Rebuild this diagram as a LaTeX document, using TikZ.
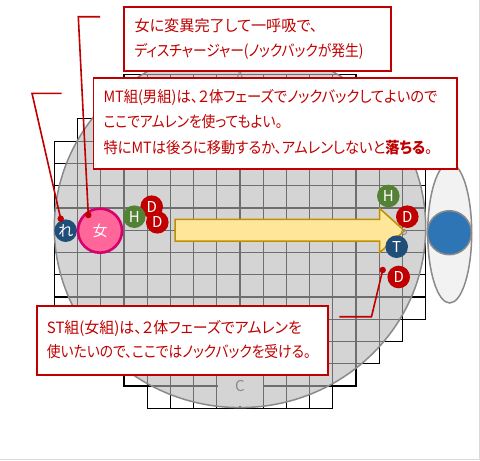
\documentclass[tikz,border=0pt]{standalone}
\usepackage{fontspec}
\usepackage{graphicx}
\setmainfont{Noto Sans CJK JP}[RawFeature=+palt]
\definecolor{calred}{HTML}{C00000}
\definecolor{mkred}{HTML}{C00000}
\definecolor{mkgreen}{HTML}{548235}
\definecolor{mkblue}{HTML}{1F4E79}
\definecolor{pinkfill}{HTML}{FF6699}
\definecolor{pinkedge}{HTML}{D6006E}
\definecolor{arrfill}{HTML}{FFE699}
\definecolor{arredge}{HTML}{BF9000}
\definecolor{bossblue}{HTML}{2E75B6}
\definecolor{arenainside}{HTML}{D4D4D4}
\definecolor{innerline}{HTML}{6E6E6E}
\definecolor{edgegray}{HTML}{8A8A8A}
\newcommand\fitline[2]{\resizebox{#1pt}{\height}{#2}}
\newcommand\gridcells[1]{%
\begin{scope}[shift={(54.3,74.3)}, x=23.2pt, y=-22.27pt]
\foreach \r/\a/\b in {0/3/12,1/2/13,2/1/14,3/0/15,4/0/15,5/0/15,6/0/15,7/0/15,8/0/15,9/0/15,10/0/15,11/1/14,12/2/13,13/3/12,14/4/11}{
  \foreach \c in {\a,...,\b}{
    \draw[gridcell, draw=#1] (\c,\r) rectangle ++(1,1);
  }
}
\end{scope}}
\tikzset{
  gridcell/.style={line width=1.2pt},
  mk/.style={circle, inner sep=0pt, minimum size=22.6pt, text=white, font=\fontsize{15}{15}\selectfont},
  leaddot/.style={circle, fill=calred, inner sep=0pt, minimum size=6.5pt},
  leader/.style={draw=calred, line width=1.6pt},
  callout/.style={rectangle, draw=calred, line width=1.8pt, fill=white, inner sep=0pt, anchor=north west},
  txt/.style={anchor=base west, inner sep=0pt, text=calred, font=\fontsize{15.5}{15.5}\selectfont},
  wpos/.style={text=edgegray, font=\fontsize{15}{15}\selectfont, inner sep=0pt}
}
\begin{document}
\begin{tikzpicture}[x=1pt,y=-1pt]
\useasboundingbox (0,0) rectangle (480,461);
\fill[white] (0,0) rectangle (480,461);
% grid outside the arena
\gridcells{black}
% arena
\fill[arenainside] (240,227.6) ellipse [x radius=185.7, y radius=180];
\begin{scope}
\clip (240,227.6) ellipse [x radius=185.7, y radius=180];
\gridcells{innerline}
\end{scope}
\fill[arenainside] (217.5,75) rectangle (262.5,118);
\fill[arenainside] (217.5,365) rectangle (262.5,405.5);
\draw[edgegray, line width=1.5pt] (240,227.6) ellipse [x radius=185.7, y radius=180];
\node[wpos] (posA) at (240,77) {A};
\node[wpos] (posC) at (240,386) {C};
% boss
\draw[edgegray, fill=white!95!black, line width=1.5pt] (449.7,233) ellipse [x radius=22, y radius=70];
\node[circle, draw=edgegray, line width=1.5pt, fill=bossblue, minimum size=44pt, inner sep=0pt] (boss) at (449.3,232.7) {};
% knockback arrow
\draw[arredge, fill=arrfill, line width=1.5pt, line join=miter]
  (175,219.3) -- (379.5,219.3) -- (379.5,208.3) -- (404.5,230.8) -- (379.5,252.7) -- (379.5,241) -- (175,241) -- cycle;
\draw[edgegray, line width=0.9pt] (404,232) circle [radius=2.5];
% markers
\node[mk, fill=mkred] (d1) at (151.7,206.7) {D};
\node[mk, fill=mkgreen] (h1) at (134.3,216.7) {H};
\node[mk, fill=mkred] (d2) at (157.3,222.3) {D};
\node[mk, fill=mkblue] (re) at (65.7,230.7) {れ};
\node[circle, fill=pinkfill, draw=pinkedge, line width=2.6pt, minimum size=44pt, inner sep=0pt, text=white, font=\fontsize{15}{15}\selectfont] (onna) at (100,230.7) {女};
\node[mk, fill=mkgreen] (h2) at (388.3,196) {H};
\node[mk, fill=mkred] (d3) at (407.3,216.7) {D};
\node[mk, fill=mkblue] (t1) at (396.7,246.7) {T};
\node[mk, fill=mkred] (d4) at (398.7,277) {D};
% leader lines
\coordinate (l1a) at (100,16.7);
\coordinate (l1b) at (78.3,16.7);
\node[leaddot] (p1) at (88.3,215) {};
\draw[leader] (l1a) -- (l1b) -- (p1.center);
\coordinate (l2a) at (61.5,93.3);
\coordinate (l2b) at (32,93.3);
\node[leaddot] (p2) at (60.7,218.7) {};
\draw[leader] (l2a) -- (l2b) -- (p2.center);
\coordinate (l3a) at (339.3,316.7);
\coordinate (l3b) at (371.5,316.7);
\node[leaddot] (p3) at (382.7,270) {};
\draw[leader] (l3a) -- (l3b) -- (p3.center);
% callouts
\node[callout, minimum width=267pt, minimum height=64pt] (box1) at (123.2,5.9) {};
\node[txt] (b1l1) at (134.3,31.2) {\fitline{183}{女に変異完了して一呼吸で、}};
\node[txt] (b1l2) at (134.3,56.2) {\fitline{229}{ディスチャージャー(ノックバックが発生)}};
\node[callout, minimum width=363.5pt, minimum height=91pt] (box2) at (92.6,76.9) {};
\node[txt] (b2l1) at (103.3,102.5) {\fitline{334}{MT組(男組)は、２体フェーズでノックバックしてよいので}};
\node[txt] (b2l2) at (103.3,127.9) {\fitline{179}{ここでアムレンを使ってもよい。}};
\node[txt] (b2l3) at (103.3,153.5) {\fitline{329}{特にMTは後ろに移動するか、アムレンしないと\textbf{落ちる}。}};
\node[callout, minimum width=290.8pt, minimum height=69.5pt] (box3) at (35.9,304.9) {};
\node[txt] (b3l1) at (46.7,333.5) {\fitline{255}{ST組(女組)は、２体フェーズでアムレンを}};
\node[txt] (b3l2) at (46.7,357.5) {\fitline{264}{使いたいので、ここではノックバックを受ける。}};
% frame
\draw[black!15, line width=1pt] (0,459.5) -- (479.5,459.5) -- (479.5,0);
\end{tikzpicture}
\end{document}
